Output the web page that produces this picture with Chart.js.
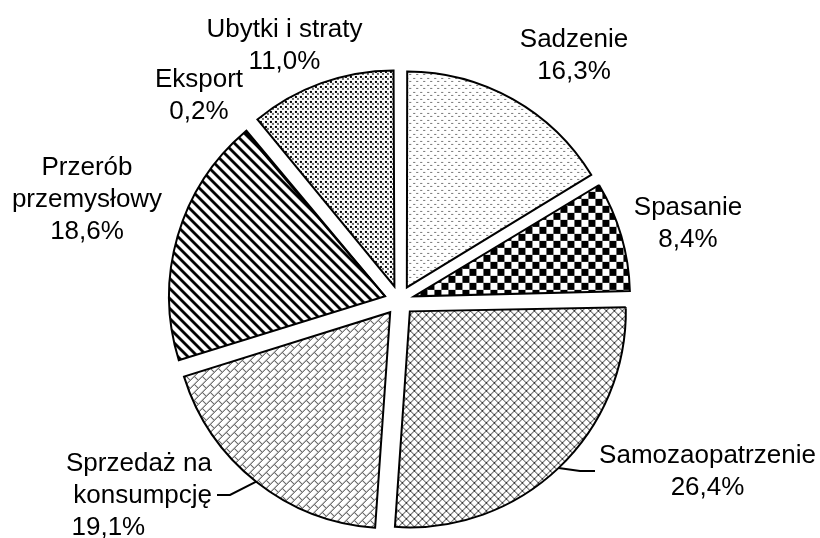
<!DOCTYPE html>
<html>
<head>
<meta charset="utf-8">
<script src="https://cdn.jsdelivr.net/npm/chart.js@4"></script>
<style>
  body { margin: 0; background: #fff; }
  canvas { display: block; }
</style>
</head>
<body>
<canvas id="pieChart" width="820" height="538"></canvas>
<script>
// data
const categories = ['Sadzenie', 'Spasanie', 'Samozaopatrzenie', 'Sprzedaż na konsumpcję', 'Przerób przemysłowy', 'Eksport', 'Ubytki i straty'];
const shares = [16.3, 8.4, 26.4, 19.1, 18.6, 0.2, 11.0];

// label placement, relative to pie centre (dx, baseline of first line dy), break after word n
const labelLayout = [
  { dx: 174.5, dy: -253.5, align: 'center', br: 0 },
  { dx: 288.5, dy: -85.5, align: 'center', br: 0 },
  { dx: 308, dy: 162, align: 'center', br: 0, leader: [195.5, 180.5, 170.5] },
  { dx: -187.5, dy: 170.5, align: 'right', br: 2, pct: { dx: -328, align: 'left' }, leader: [-182.5, -169.5, 194.5] },
  { dx: -312.5, dy: -125.5, align: 'center', br: 1 },
  { dx: -200.5, dy: -214, align: 'center', br: 0 },
  { dx: -115, dy: -264, align: 'center', br: 0 }
];
const lineHeight = 32;
// the tiny Eksport slice sits against the Przerób slice instead of moving on its own
const stickTo = { 5: 4 };

// fill patterns, one tile each
const tile = (size, draw) => {
  const c = document.createElement('canvas');
  c.width = size; c.height = size;
  const g = c.getContext('2d');
  g.fillStyle = '#fff';
  g.fillRect(0, 0, size, size);
  draw(g, size);
  return g.createPattern(c, 'repeat');
};

const sparseDots = tile(7, (g) => {
  g.fillStyle = '#444';
  g.fillRect(0, 0, 1, 1);
  g.fillRect(3, 3, 1, 1);
  g.fillStyle = '#999';
  g.fillRect(1, 0, 1, 1); g.fillRect(4, 3, 1, 1);
});
const checker = tile(14, (g) => {
  g.fillStyle = '#000';
  g.fillRect(0, 0, 7, 7);
  g.fillRect(7, 7, 7, 7);
});
const crossHatch = tile(8, (g, s) => {
  g.fillStyle = '#333';
  for (let i = 0; i < s; i++) {
    g.fillRect(i, i, 1, 1);
    g.fillRect(s - 1 - i, i, 1, 1);
  }
});
const brick = tile(8, (g, s) => {
  g.fillStyle = '#222';
  for (let i = 0; i < s; i++) g.fillRect(i, s - 1 - i, 1, 1);
  g.fillRect(4, 5, 1, 1); g.fillRect(5, 6, 1, 1); g.fillRect(6, 7, 1, 1);
});
const wideDiag = tile(10, (g, s) => {
  g.fillStyle = '#000';
  for (let y = 0; y < s; y++) {
    for (let x = 0; x < s; x++) {
      if (((x - y) % s + s) % s < 4) g.fillRect(x, y, 1, 1);
    }
  }
});
const denseDots = tile(5, (g) => {
  g.fillStyle = '#000';
  g.fillRect(0, 0, 2, 2);
  g.fillStyle = '#666';
  g.fillRect(2, 2, 2, 2);
});
const fills = [sparseDots, checker, crossHatch, brick, wideDiag, '#fff', denseDots];

const fmt = (v) => v.toFixed(1).replace('.', ',') + '%';

const shiftOf = (arc) => {
  const half = (arc.startAngle + arc.endAngle) / 2;
  const d = ((arc.options && arc.options.offset) || 0) / 4;
  return [Math.cos(half) * d, Math.sin(half) * d];
};

// chart.js grows the radius of small exploded slices; keep them all the same size
const sameRadius = {
  id: 'sameRadius',
  afterDatasetUpdate(chart, args) {
    const meta = args.meta;
    const R = meta.controller.outerRadius;
    meta.data.forEach((arc, i) => {
      const shift = ((arc.options && arc.options.offset) || 0) / 4;
      const circ = arc.endAngle - arc.startAngle;
      const fix = 1 - Math.sin(Math.min(Math.PI, circ));
      arc.outerRadius = R - shift * fix;

      if (stickTo[i] !== undefined) {
        const host = shiftOf(meta.data[stickTo[i]]);
        const own = shiftOf(arc);
        const baseDraw = Object.getPrototypeOf(arc).draw;
        arc.draw = function (ctx, area) {
          ctx.save();
          ctx.translate(host[0] - own[0], host[1] - own[1]);
          baseDraw.call(this, ctx, area);
          ctx.restore();
        };
      }
    });
  }
};

const sliceLabels = {
  id: 'sliceLabels',
  afterDraw(chart) {
    const ctx = chart.ctx;
    const arcs = chart.getDatasetMeta(0).data;
    const R = chart.getDatasetMeta(0).controller.outerRadius;
    ctx.save();
    ctx.font = '26px "Liberation Sans", Arial, sans-serif';
    ctx.fillStyle = '#000';
    ctx.textBaseline = 'alphabetic';
    arcs.forEach((arc, i) => {
      const lay = labelLayout[i];
      const cx = arc.x, cy = arc.y;
      const words = categories[i].split(' ');
      const lines = lay.br ? [words.slice(0, lay.br).join(' '), words.slice(lay.br).join(' ')] : [categories[i]];
      ctx.textAlign = lay.align;
      lines.forEach((t, k) => ctx.fillText(t, cx + lay.dx, cy + lay.dy + k * lineHeight));
      const pct = lay.pct || lay;
      ctx.textAlign = pct.align;
      ctx.fillText(fmt(shares[i]), cx + pct.dx, cy + lay.dy + lines.length * lineHeight);

      if (lay.leader) {
        const mid = (arc.startAngle + arc.endAngle) / 2;
        const shift = (arc.options.offset || 0) / 4;
        const px = cx + Math.cos(mid) * (R + shift);
        const py = cy + Math.sin(mid) * (R + shift);
        ctx.beginPath();
        ctx.lineWidth = 2;
        ctx.strokeStyle = '#000';
        ctx.moveTo(cx + lay.leader[0], cy + lay.leader[2]);
        ctx.lineTo(cx + lay.leader[1], cy + lay.leader[2]);
        ctx.lineTo(px, py);
        ctx.stroke();
      }
    });
    ctx.restore();
  }
};

new Chart(document.getElementById('pieChart'), {
  type: 'pie',
  data: {
    labels: categories,
    datasets: [{
      data: shares,
      backgroundColor: fills,
      borderColor: '#000',
      borderWidth: 2,
      borderJoinStyle: 'miter',
      offset: 60
    }]
  },
  options: {
    responsive: false,
    animation: false,
    events: [],
    radius: 216,
    layout: { padding: { left: 0, right: 21, top: 63, bottom: 0 } },
    plugins: {
      legend: { display: false },
      tooltip: { enabled: false }
    }
  },
  plugins: [sameRadius, sliceLabels]
});
</script>
</body>
</html>
